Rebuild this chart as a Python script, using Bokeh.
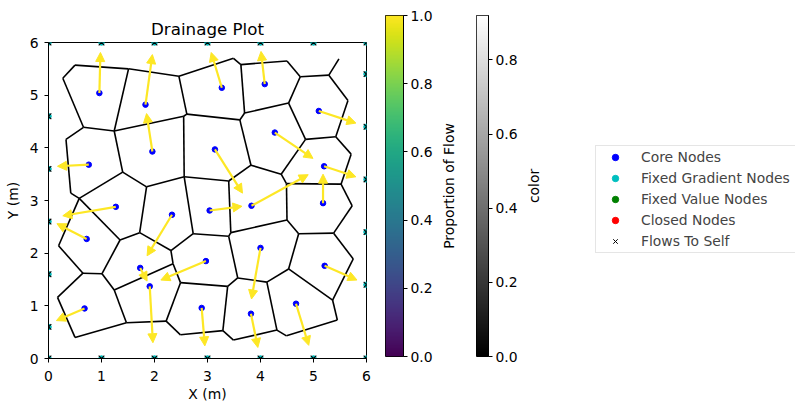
import numpy as np
from bokeh.plotting import figure
from bokeh.models import (Range1d, FixedTicker, PrintfTickFormatter, Arrow, NormalHead,
                          ColumnDataSource, LinearColorMapper, Legend, LegendItem, Title)
from bokeh.layouts import row
from bokeh.palettes import Viridis256, Greys256
from bokeh.embed import file_html
from bokeh.resources import INLINE

FONT = "DejaVu Sans"
YEL = "#fde725"

# ---- data ----
node_x = [0.96, 1.83, 3.27, 4.08, 5.10, 1.96, 4.27, 0.76, 3.14, 5.20, 1.27, 3.04, 3.83,
          5.18, 2.33, 0.72, 4.00, 1.73, 2.97, 5.21, 1.91, 0.68, 2.89, 3.82, 4.67]
node_y = [5.04, 4.82, 5.14, 5.21, 4.70, 3.93, 4.29, 3.68, 3.97, 3.65, 2.88, 2.81, 2.90,
          2.95, 2.73, 2.27, 2.10, 1.72, 1.85, 1.76, 1.37, 0.95, 0.96, 0.85, 1.04]
tip_x = [0.98, 1.96, 3.07, 4.01, 5.80, 1.85, 4.99, 0.17, 3.66, 5.80, 0.27, 3.65, 4.90,
         5.18, 1.86, 0.16, 3.83, 1.86, 2.12, 5.82, 1.97, 0.15, 2.95, 3.95, 4.91]
tip_y = [5.81, 5.77, 5.81, 5.83, 4.47, 4.65, 3.80, 3.65, 3.14, 3.45, 2.71, 2.89, 3.49,
         3.50, 1.95, 2.56, 1.13, 1.47, 1.49, 1.49, 0.30, 0.72, 0.24, 0.21, 0.25]

bnd_x = [0, 6, 0, 6, 1, 2, 3, 4, 5, 1, 2, 3, 4, 5, 0, 0, 0, 0, 0, 6, 6, 6, 6, 6]
bnd_y = [0, 0, 6, 6, 0, 0, 0, 0, 0, 6, 6, 6, 6, 6, 0.6, 1.6, 2.6, 3.6, 4.6, 1.4, 2.4, 3.4, 4.4, 5.4]

vert_x = [0.50, 0.27, 1.51, 2.46, 3.49, 3.63, 4.50, 4.75, 5.29, 5.48,
          0.66, 1.24, 2.61, 2.55, 0.33, 0.42, 0.58, 1.40, 1.85, 2.56,
          0.19, 1.35, 1.72, 2.31, 2.73, 0.65, 1.01, 1.24, 2.35, 2.49,
          2.22, 0.17, 0.50, 1.47, 2.49, 3.29, 5.65, 5.42, 4.85, 4.53,
          3.70, 3.61, 3.82, 4.39, 5.71, 5.52, 4.49, 3.40, 3.44, 5.73,
          5.38, 4.72, 4.50, 3.40, 3.57, 3.38, 4.12, 4.53, 5.36, 5.75,
          5.45, 4.31, 4.49, 3.49]
vert_y = [5.57, 5.32, 5.50, 5.36, 5.70, 5.58, 5.65, 5.35, 5.38, 5.69,
          4.39, 4.32, 4.64, 4.60, 4.16, 3.14, 3.04, 3.54, 3.26, 3.45,
          2.14, 2.25, 2.39, 2.05, 2.37, 1.62, 1.61, 1.30, 1.80, 1.44,
          0.71, 1.16, 0.40, 0.68, 0.45, 0.53, 4.90, 4.21, 4.16, 4.85,
          4.66, 4.53, 3.67, 3.50, 3.88, 3.31, 3.32, 3.37, 2.39, 2.90,
          2.38, 2.37, 2.63, 2.32, 1.53, 1.37, 1.45, 1.70, 1.11, 1.89,
          0.73, 0.54, 0.43, 0.35]
edge_a = [1, 1, 2, 11, 3, 3, 4, 13, 12, 11, 15, 16, 12, 18, 18, 19, 14,
          17, 17, 19, 22, 23, 24, 20, 21, 26, 22, 27, 28, 24, 29, 30, 26, 32, 33, 28, 34, 31, 35,
          4, 5, 6, 6, 7, 8, 9, 9, 8, 40, 41, 13, 42, 40, 39, 37, 38, 45, 39, 43, 44, 47, 43, 48, 48,
          46, 50, 51, 52, 53, 49, 25, 54, 54, 30, 55, 55, 57, 58, 58, 51, 60, 59, 57, 62, 63, 56, 36, 64]
edge_b = [3, 2, 11, 12, 12, 4, 13, 14, 14, 15, 16, 17, 18, 17, 19, 20, 20,
          21, 22, 23, 23, 24, 25, 25, 26, 27, 27, 28, 29, 29, 30, 31, 32, 33, 34, 34, 31, 35, 36,
          5, 6, 7, 41, 8, 9, 10, 37, 40, 41, 42, 42, 43, 39, 38, 38, 45, 46, 44, 44, 47, 46, 48, 20, 49,
          50, 51, 52, 53, 47, 53, 54, 49, 55, 56, 56, 57, 58, 52, 59, 60, 59, 61, 62, 63, 61, 36, 64, 62]

axis_ticks = [0, 1, 2, 3, 4, 5, 6]
flow_ticks = [0.0, 0.2, 0.4, 0.6, 0.8, 1.0]
color_ticks = [0.0, 0.2, 0.4, 0.6, 0.8]
color_max = 0.92

legend_labels = ["Core Nodes", "Fixed Gradient Nodes", "Fixed Value Nodes", "Closed Nodes", "Flows To Self"]
legend_colors = ["blue", "#00bfbf", "#008000", "#ff0000"]

FS = "13.9px"


def style_axis(ax):
    ax.major_label_text_font = FONT
    ax.major_label_text_font_size = FS
    ax.major_label_text_color = "black"
    ax.axis_label_text_font = FONT
    ax.axis_label_text_font_size = FS
    ax.axis_label_text_font_style = "normal"
    ax.axis_label_text_color = "black"
    ax.minor_tick_line_color = None
    ax.major_tick_in = 0
    ax.major_tick_out = 4
    ax.major_tick_line_color = "black"
    ax.axis_line_color = "black"


def side_title(text, standoff):
    return Title(text=text, align="center", text_font=FONT, text_font_size=FS,
                 text_font_style="normal", text_color="black", standoff=standoff)


# ---- main plot ----
p = figure(width=384, height=404, x_range=Range1d(0, 6), y_range=Range1d(0, 6),
           output_backend="svg", toolbar_location=None, title="Drainage Plot",
           min_border_left=48, min_border_right=18, min_border_top=42, min_border_bottom=45,
           frame_align=False)
p.grid.visible = False
p.outline_line_color = "black"
p.outline_line_alpha = 1
p.title.text_font = FONT
p.title.text_font_size = "16.7px"
p.title.text_font_style = "normal"
p.title.text_color = "black"
p.title.align = "center"
p.title.standoff = 8
p.xaxis.ticker = FixedTicker(ticks=axis_ticks)
p.yaxis.ticker = FixedTicker(ticks=axis_ticks)
p.xaxis.axis_label = "X (m)"
p.yaxis.axis_label = "Y (m)"
style_axis(p.xaxis[0])
style_axis(p.yaxis[0])
p.xaxis.major_label_standoff = 8
p.yaxis.major_label_standoff = 6
p.xaxis.axis_label_standoff = 2
p.yaxis.axis_label_standoff = 6

xs = [[vert_x[a - 1], vert_x[b - 1]] for a, b in zip(edge_a, edge_b)]
ys = [[vert_y[a - 1], vert_y[b - 1]] for a, b in zip(edge_a, edge_b)]
p.multi_line(xs, ys, line_color="black", line_width=1.6)

arrow_src = ColumnDataSource(dict(x0=node_x, y0=node_y, x1=tip_x, y1=tip_y))
p.add_layout(Arrow(end=NormalHead(size=9, fill_color=YEL, line_color=YEL, line_width=1),
                   x_start="x0", y_start="y0", x_end="x1", y_end="y1", source=arrow_src,
                   line_color=YEL, line_width=2.2))

p.scatter(node_x, node_y, size=5.5, color="blue")
p.scatter(bnd_x, bnd_y, size=5.5, color="#00bfbf")
p.scatter(bnd_x, bnd_y, marker="x", size=8, line_color="black", line_width=1.1)


# ---- colorbars ----
def cbar(palette, high, ticks, left, right, width):
    f = figure(width=width, height=404, x_range=Range1d(0, 1), y_range=Range1d(0, high),
               output_backend="svg", toolbar_location=None, x_axis_location=None,
               y_axis_location="right", min_border_left=left, min_border_right=right,
               min_border_top=15, min_border_bottom=48, frame_align=False)
    f.grid.visible = False
    f.outline_line_color = "black"
    f.outline_line_alpha = 1
    grad = np.linspace(0, high, 256).reshape(-1, 1)
    f.image(image=[grad], x=0, y=0, dw=1, dh=high,
            color_mapper=LinearColorMapper(palette=palette, low=0, high=high))
    f.yaxis.ticker = FixedTicker(ticks=ticks)
    f.yaxis.formatter = PrintfTickFormatter(format="%.1f")
    style_axis(f.yaxis[0])
    f.yaxis.major_label_standoff = 3
    return f


cb1 = cbar(Viridis256, 1.0, flow_ticks, 1, 34, 53)
cb2 = cbar(Greys256, color_max, color_ticks, 34, 34, 85)
# spacer panel next to the frame, then the label
cb2.add_layout(side_title(" ", 1), "left")
cb2.add_layout(side_title("Proportion of Flow", 2), "left")

# ---- legend panel ----
lf = figure(width=273, height=404, x_range=Range1d(0, 1), y_range=Range1d(0, 1),
            output_backend="svg", toolbar_location=None, x_axis_location=None,
            y_axis_location=None, min_border_left=40, min_border_right=0,
            min_border_top=15, min_border_bottom=48, outline_line_color=None,
            frame_align=False)
lf.grid.visible = False
lf.add_layout(side_title(" ", 5), "left")
lf.add_layout(side_title("color", 2), "left")
rs = [lf.scatter(x=[-5], y=[-5], size=5.5, color=c) for c in legend_colors]
rs.append(lf.scatter(x=[-5], y=[-5], marker="x", size=7, line_color="black", line_width=1))
items = [LegendItem(label=l, renderers=[r]) for l, r in zip(legend_labels, rs)]
leg = Legend(items=items, location=(30, 103), label_text_font=FONT, label_text_font_size=FS,
             glyph_width=36, glyph_height=16, label_height=20, spacing=1, padding=1,
             label_standoff=8, label_width=153, border_line_color="#cccccc",
             border_line_width=1, background_fill_alpha=0.8, margin=0)
lf.add_layout(leg)

layout = row(p, cb1, cb2, lf)
open("out.html", "w").write(file_html(layout, INLINE))
